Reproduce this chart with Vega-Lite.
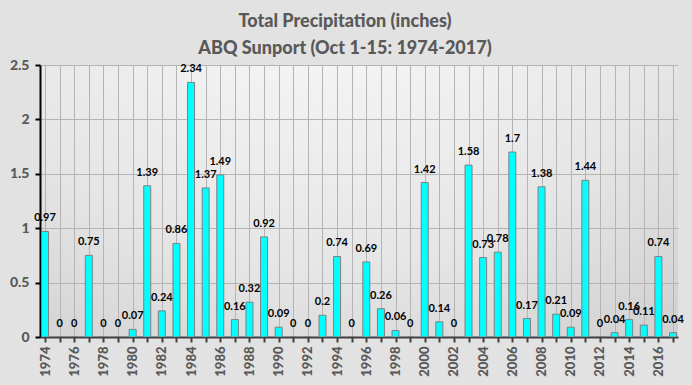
{
  "$schema": "https://vega.github.io/schema/vega-lite/v6.json",
  "width": 638,
  "height": 272,
  "autosize": "none",
  "padding": {"left": 40, "top": 65, "right": 14, "bottom": 48},
  "background": "#e2e2e2",
  "title": {
    "text": ["Total Precipitation (inches)", "ABQ Sunport (Oct 1-15: 1974-2017)"],
    "font": "Lato",
    "fontSize": 18,
    "fontWeight": 900,
    "color": "#595959",
    "lineHeight": 27,
    "anchor": "middle",
    "dx": -14,
    "offset": 0
  },
  "config": {
    "view": {
      "stroke": null,
      "fill": {
        "gradient": "radial",
        "x1": 0.45, "y1": 0.0, "x2": 0.45, "y2": 0.0, "r1": 0, "r2": 1,
        "stops": [
          {"offset": 0, "color": "#ffffff"},
          {"offset": 0.6, "color": "#e6e6e6"},
          {"offset": 1, "color": "#c8c8c8"}
        ]
      }
    },
    "axis": {
      "labelFont": "Lato",
      "labelFontWeight": 900,
      "labelColor": "#595959",
      "gridColor": "#b4b4b4",
      "gridOpacity": 1,
      "gridWidth": 1,
      "title": null
    }
  },
  "data": {
    "values": [
      {"year": 1974, "precip": 0.97},
      {"year": 1975, "precip": 0},
      {"year": 1976, "precip": 0},
      {"year": 1977, "precip": 0.75},
      {"year": 1978, "precip": 0},
      {"year": 1979, "precip": 0},
      {"year": 1980, "precip": 0.07},
      {"year": 1981, "precip": 1.39},
      {"year": 1982, "precip": 0.24},
      {"year": 1983, "precip": 0.86},
      {"year": 1984, "precip": 2.34},
      {"year": 1985, "precip": 1.37},
      {"year": 1986, "precip": 1.49},
      {"year": 1987, "precip": 0.16},
      {"year": 1988, "precip": 0.32},
      {"year": 1989, "precip": 0.92},
      {"year": 1990, "precip": 0.09},
      {"year": 1991, "precip": 0},
      {"year": 1992, "precip": 0},
      {"year": 1993, "precip": 0.2},
      {"year": 1994, "precip": 0.74},
      {"year": 1995, "precip": 0},
      {"year": 1996, "precip": 0.69},
      {"year": 1997, "precip": 0.26},
      {"year": 1998, "precip": 0.06},
      {"year": 1999, "precip": 0},
      {"year": 2000, "precip": 1.42},
      {"year": 2001, "precip": 0.14},
      {"year": 2002, "precip": 0},
      {"year": 2003, "precip": 1.58},
      {"year": 2004, "precip": 0.73},
      {"year": 2005, "precip": 0.78},
      {"year": 2006, "precip": 1.7},
      {"year": 2007, "precip": 0.17},
      {"year": 2008, "precip": 1.38},
      {"year": 2009, "precip": 0.21},
      {"year": 2010, "precip": 0.09},
      {"year": 2011, "precip": 1.44},
      {"year": 2012, "precip": 0},
      {"year": 2013, "precip": 0.04},
      {"year": 2014, "precip": 0.16},
      {"year": 2015, "precip": 0.11},
      {"year": 2016, "precip": 0.74},
      {"year": 2017, "precip": 0.04}
    ]
  },
  "encoding": {
    "x": {
      "field": "year",
      "type": "quantitative",
      "scale": {"domain": [1974, 2017], "nice": false, "zero": false},
      "axis": {
        "values": [1974,1975,1976,1977,1978,1979,1980,1981,1982,1983,1984,1985,1986,1987,1988,1989,1990,1991,1992,1993,1994,1995,1996,1997,1998,1999,2000,2001,2002,2003,2004,2005,2006,2007,2008,2009,2010,2011,2012,2013,2014,2015,2016,2017],
        "labelExpr": "datum.value % 2 == 0 ? format(datum.value, 'd') : ''",
        "labelAngle": -90,
        "labelAlign": "right",
        "labelBaseline": "middle",
        "labelFontSize": 13,
        "labelPadding": 4,
        "labelOverlap": false,
        "labelBound": false,
        "labelFlush": false,
        "tickSize": 5,
        "tickColor": "#404040",
        "tickWidth": 2,
        "domainColor": "#404040",
        "domainWidth": 2,
        "grid": true
      }
    },
    "y": {
      "field": "precip",
      "type": "quantitative",
      "scale": {"domain": [0, 2.5], "nice": false},
      "axis": {
        "values": [0, 0.5, 1, 1.5, 2, 2.5],
        "format": "~g",
        "labelFontSize": 14,
        "labelPadding": 6,
        "tickSize": 5,
        "tickColor": "#000000",
        "tickWidth": 2,
        "domainColor": "#000000",
        "domainWidth": 2,
        "grid": true
      }
    }
  },
  "layer": [
    {
      "mark": {"type": "bar", "size": 7, "fill": "#00ffff", "stroke": "#808080", "strokeWidth": 1, "clip": true}
    },
    {
      "mark": {"type": "text", "dy": -13, "font": "Lato", "fontWeight": "bold", "fontSize": 11, "color": "#000000"},
      "encoding": {
        "text": {"field": "precip", "type": "quantitative", "format": "~g"}
      }
    }
  ]
}
